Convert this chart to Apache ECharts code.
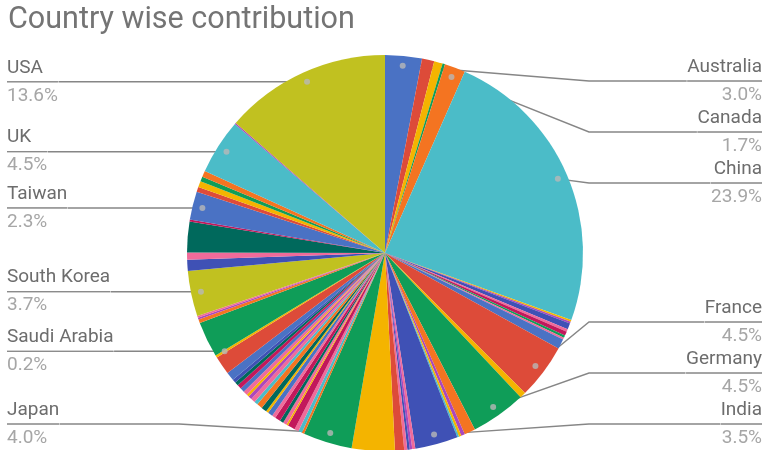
<!DOCTYPE html>
<html><head><meta charset="utf-8">
<script src="https://cdn.jsdelivr.net/npm/echarts@6/dist/echarts.min.js"></script>
<style>html,body{margin:0;padding:0;background:#fff}#chart{width:764px;height:450px}</style>
</head><body><div id="chart"></div>
<script>
// ---- data ----
const countries = [
  "Australia","Austria","Belgium","Brazil","Canada","China",
  "Colombia","Croatia","Cyprus","Czech Republic","Denmark","Egypt","Estonia","Finland",
  "France","Georgia","Germany",
  "Greece","Hong Kong","Hungary","Iceland",
  "India","Indonesia","Iran","Iraq","Ireland","Israel","Italy","Japan",
  "Jordan","Kazakhstan","Kenya","Kuwait","Latvia","Lebanon","Lithuania","Luxembourg",
  "Malaysia","Mexico","Morocco","Netherlands","New Zealand","Nigeria","Norway","Oman",
  "Pakistan","Peru","Philippines","Poland","Portugal","Qatar",
  "Romania","Russia","Saudi Arabia","Singapore","Slovakia","Slovenia","South Africa",
  "South Korea","Spain","Sri Lanka","Sweden","Switzerland","Taiwan",
  "Thailand","Turkey","UAE","Ukraine","UK","Uruguay","USA"
];
const shares = [
  3.0,1.0,0.7,0.2,1.7,23.9,
  0.15,0.15,0.5,0.2,0.35,0.2,0.15,0.8,
  4.5,0.5,4.5,
  0.9,0.3,0.2,0.15,
  3.5,0.25,0.2,0.2,0.25,0.75,3.5,4.0,
  0.2,0.3,0.35,0.6,0.15,0.3,0.3,0.45,
  0.3,0.4,0.2,0.45,0.45,0.3,0.35,0.3,
  0.2,0.35,0.35,0.35,0.3,0.3,
  0.7,1.5,0.2,2.9,0.3,0.15,0.15,
  3.7,0.9,0.6,2.5,0.15,2.3,
  0.4,0.5,0.4,0.5,4.5,0.1,13.6
];
const labeledCountries = ["Australia","Canada","China","France","Germany","India",
  "Japan","Saudi Arabia","South Korea","Taiwan","UK","USA"];
const titleText = "Country wise contribution";

// ---- styles ----
const sliceColorKeys = [
  "B","R","Y","G","O","C",
  "Y","P","I","K","M","G","K","B",
  "R","Y","G",
  "O","P","Y","C",
  "I","K","P","I","K","R","Y","G",
  "O","C","K","M","Y","K","T","M",
  "K","B","Y","T","O","C","K","P",
  "Y","K","B","M","T","I",
  "B","R","Y","G","O","P","K",
  "L","I","K","T","M","B",
  "R","Y","G","O","C","P","L"
];
const palette = {
  B:"#4a72c4", R:"#dd4b39", Y:"#f4b400", G:"#0f9d58", O:"#f47421", C:"#4bbcc8",
  L:"#c1c120", I:"#3f51b5", K:"#f06b9a", M:"#c2185b", P:"#ab47bc", T:"#00695c"
};

// ---- layout constants ----
const CX = 385, CY = 253, R = 198;
const VIEW_LEFT = 2, VIEW_TOP = 55;
const DOT_R = 0.95;            // label anchor dot, fraction of radius
const LABEL_GAP = 51;          // vertical spacing between stacked labels
const LABEL_Y_MIN = 81, LABEL_Y_MAX = 424;

const total = shares.reduce((a, b) => a + b, 0);

// mid angle of every labelled slice, derived from the data
const anchors = {};
(function () {
  let acc = 0;
  const sides = {left: [], right: []};
  shares.forEach((v, i) => {
    const mid = (acc + v / 2) / total * 2 * Math.PI;
    acc += v;
    const name = countries[i];
    if (!labeledCountries.includes(name)) return;
    const a = {name, mid,
      dx: Math.sin(mid), dy: -Math.cos(mid),
      ty: CY - DOT_R * R * Math.cos(mid)};
    a.side = a.dx >= 0 ? 'right' : 'left';
    sides[a.side].push(a);
    anchors[name] = a;
  });
  // stack labels on each side without overlap (like the source chart)
  Object.values(sides).forEach(list => {
    list.sort((p, q) => p.ty - q.ty);
    list.forEach((a, k) => {
      a.y = Math.max(a.ty, LABEL_Y_MIN, k ? list[k - 1].y + LABEL_GAP : -Infinity);
    });
    for (let k = list.length - 1; k >= 0; k--) {
      const lim = k < list.length - 1 ? list[k + 1].y - LABEL_GAP : Infinity;
      list[k].y = Math.min(list[k].y, LABEL_Y_MAX, lim);
    }
  });
})();

const dots = [];
(function () {
  let acc = 0;
  shares.forEach((v, i) => {
    if (labeledCountries.includes(countries[i])) dots.push([DOT_R, acc + v / 2]);
    acc += v;
  });
})();

const chart = echarts.init(document.getElementById('chart'), null, {renderer: 'canvas'});

const pieData = countries.map((name, i) => {
  const show = labeledCountries.includes(name);
  return {
    name, value: shares[i],
    itemStyle: {color: palette[sliceColorKeys[i]]},
    label: {show}, labelLine: {show}
  };
});

chart.setOption({
  animation: false,
  backgroundColor: '#ffffff',
  title: {
    text: titleText, left: 3, top: 0,
    textStyle: {fontFamily: 'Roboto', fontSize: 30.5, fontWeight: 'normal', color: '#747474'}
  },
  polar: {center: [CX, CY], radius: R},
  angleAxis: {type: 'value', min: 0, max: total, startAngle: 90, clockwise: true, show: false},
  radiusAxis: {type: 'value', min: 0, max: 1, show: false},
  series: [{
    type: 'pie',
    left: VIEW_LEFT, top: VIEW_TOP, right: -3, bottom: 0,
    center: [CX - VIEW_LEFT, CY - VIEW_TOP],
    radius: R,
    startAngle: 90, clockwise: true,
    silent: true,
    avoidLabelOverlap: false,
    emphasis: {disabled: true},
    itemStyle: {borderWidth: 0},
    label: {
      position: 'outside', alignTo: 'edge', edgeDistance: 5,
      fontFamily: 'Roboto',
      formatter: p => `{n|${p.name}}\n{hr|}\n{p|${p.value.toFixed(1)}%}`,
      rich: {
        n: {fontFamily: 'Roboto', fontSize: 19, color: '#6d6d6d', lineHeight: 28},
        hr: {width: '100%', height: 0, borderWidth: 1, borderColor: '#868686'},
        p: {fontFamily: 'Roboto', fontSize: 19, color: '#a6a6a6', lineHeight: 28}
      }
    },
    labelLine: {length: 1, length2: 1, lineStyle: {color: '#868686', width: 1.4}},
    labelLayout: function (params) {
      const a = anchors[countries[params.dataIndex]];
      if (!a) return {};
      const r = params.labelRect;
      const isLeft = a.side === 'left';
      const y = a.y;
      const sx = CX + DOT_R * R * a.dx;
      const sy = CY + DOT_R * R * a.dy;
      const bx = isLeft ? CX - R - 8 : CX + R + 6;
      const ex = isLeft ? r.x + r.width : r.x;
      return {y: y, verticalAlign: 'middle', labelLinePoints: [[sx, sy], [bx, y], [ex, y]]};
    },
    data: pieData
  }, {
    type: 'scatter', coordinateSystem: 'polar', silent: true, z: 5,
    symbolSize: 6, itemStyle: {color: '#b8b8b8'},
    data: dots
  }]
});
</script>
</body></html>
